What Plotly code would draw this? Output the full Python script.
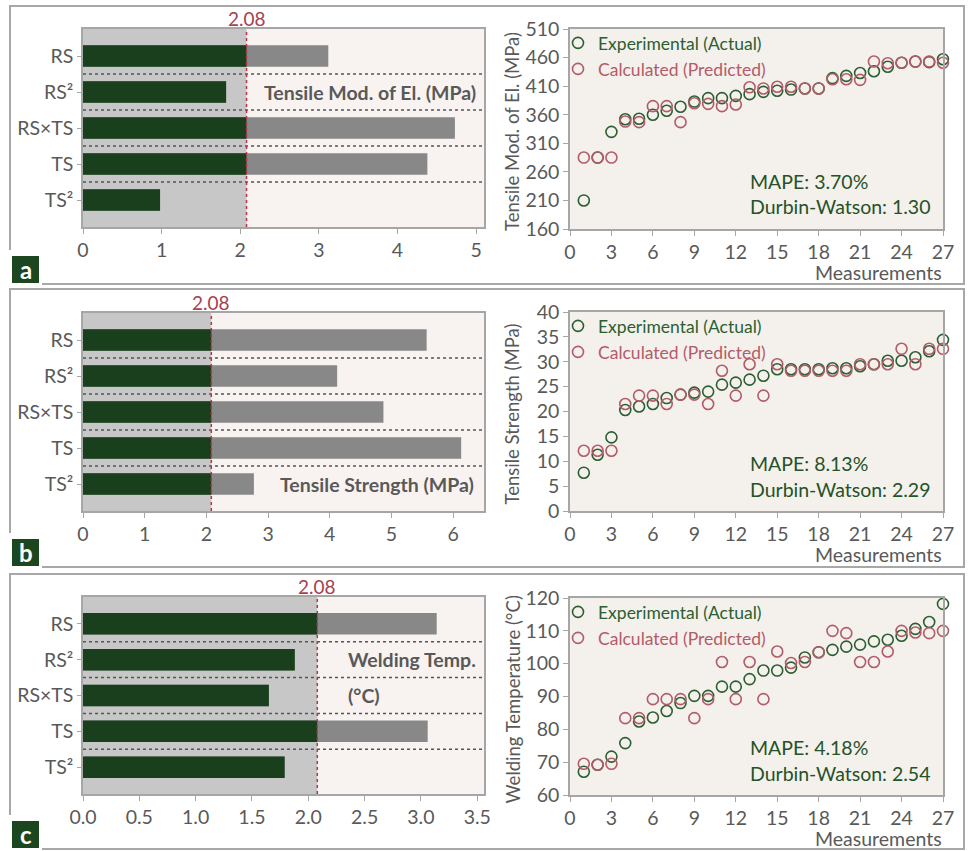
import plotly.graph_objects as go

W, H = 970, 851

# ---------------- data ----------------
terms = ["RS", "RS²", "RS×TS", "TS", "TS²"]
threshold = 2.08
effects_mod = [3.12, 1.82, 4.73, 4.38, 0.98]
effects_str = [5.57, 4.12, 4.87, 6.13, 2.77]
effects_temp = [3.14, 1.88, 1.65, 3.06, 1.79]

measurements = list(range(1, 28))
mod_exp = [210, 285, 330, 352, 353, 360, 367, 374, 383, 389, 389, 393, 396, 400,
           402, 404, 406, 406, 424, 428, 433, 436, 444, 451, 453, 452, 457]
mod_calc = [285, 285, 285, 348, 347, 375, 375, 347, 380, 379, 375, 378, 408, 406,
            409, 409, 406, 406, 422, 422, 421, 453, 450, 451, 453, 453, 451]
str_exp = [7.7, 11.3, 14.8, 20.3, 21.0, 21.5, 22.7, 23.4, 23.8, 24.0, 25.4, 25.8, 26.4, 27.2,
           28.5, 28.5, 28.5, 28.5, 28.7, 28.7, 29.1, 29.5, 30.2, 30.2, 30.9, 32.1, 34.4]
str_calc = [12.1, 12.1, 12.1, 21.5, 23.2, 23.2, 21.5, 23.4, 23.4, 21.5, 28.2, 23.2, 29.5, 23.2,
            29.5, 28.2, 28.2, 28.2, 28.2, 28.2, 29.5, 29.5, 29.5, 32.6, 29.5, 32.6, 32.6]
temp_exp = [67.1, 69.2, 71.7, 75.8, 82.4, 83.6, 85.6, 88.0, 90.2, 90.2, 93.0, 93.0, 95.3, 97.9,
            97.9, 98.8, 101.9, 103.5, 104.2, 105.2, 105.8, 106.8, 107.3, 108.5, 110.6, 112.7, 118.2]
temp_calc = [69.5, 69.2, 69.5, 83.4, 83.4, 89.2, 89.2, 89.2, 83.4, 89.2, 100.5, 89.2, 100.5, 89.2,
             103.7, 100.2, 100.5, 103.5, 110.0, 109.3, 100.5, 100.5, 103.7, 110.0, 109.5, 109.3, 110.0]

panel_letters = ["a", "b", "c"]
bar_titles = ["Tensile Mod. of El. (MPa)", "Tensile Strength (MPa)", "Welding Temp.<br>(°C)"]
y_titles = ["Tensile Mod. of El. (MPa)", "Tensile Strength (MPa)", "Welding Temperature (°C)"]
mape = ["3.70%", "8.13%", "4.18%"]
dw = ["1.30", "2.29", "2.54"]
legend_names = ["Experimental (Actual)", "Calculated (Predicted)"]

# ---------------- style ----------------
FONT = "Lato, 'Open Sans', sans-serif"
DARK_GREEN = "#193f1c"
BAR_GRAY = "#888888"
REGION_GRAY = "#c7c7c7"
BEIGE = "#f8f3f0"
SC_BG = "#f4f0ec"
GREEN_M = "#2b5f31"
RED_M = "#b35b69"
TXT = "#595959"
AX = "#a6a6a6"
LABEL_RED = "#a8404f"
TEXT_GREEN = "#245229"
TICK_SIZE = 19.5


def xd(a, b):
    return [a / W, b / W]


def yd(top, bottom):
    return [1 - bottom / H, 1 - top / H]


def px(x):
    return x / W


def py(y):
    return 1 - y / H


# geometry (pixels)
bar_x = (83, 484)
sc_x = (570, 943)
bar_y = [(29, 227), (313, 511), (597, 794)]
sc_y = [(29, 229), (312, 511), (598, 795)]
bar_range = [[0, 5.1], [0, 6.5], [0, 3.56]]
bar_dtick = [1, 1, 0.5]
bar_fmt = ["", "", ".1f"]
sc_range = [[160, 510], [0, 40], [60, 120]]
sc_dtick = [50, 5, 10]
frames = [(6, 284), (289, 567), (574, 849)]

effects = [effects_mod, effects_str, effects_temp]
exps = [mod_exp, str_exp, temp_exp]
calcs = [mod_calc, str_calc, temp_calc]

fig = go.Figure()
layout = dict(
    width=W, height=H, margin=dict(l=0, r=0, t=0, b=0, autoexpand=False),
    paper_bgcolor="white", plot_bgcolor=SC_BG,
    font=dict(family=FONT, size=18, color=TXT),
    barmode="overlay", showlegend=True,
)
shapes = []
annotations = []

for p in range(3):
    bx = "x" if p == 0 else f"x{2 * p + 1}"
    byy = "y" if p == 0 else f"y{2 * p + 1}"
    sx = f"x{2 * p + 2}"
    syy = f"y{2 * p + 2}"
    bxk = "xaxis" if p == 0 else f"xaxis{2 * p + 1}"
    byk = "yaxis" if p == 0 else f"yaxis{2 * p + 1}"
    sxk = f"xaxis{2 * p + 2}"
    syk = f"yaxis{2 * p + 2}"

    # ---- bar chart ----
    vals = effects[p]
    fig.add_trace(go.Bar(y=terms, x=vals, orientation="h", width=0.6,
                         marker=dict(color=BAR_GRAY, line=dict(width=0)),
                         xaxis=bx, yaxis=byy, showlegend=False, hoverinfo="skip"))
    fig.add_trace(go.Bar(y=terms, x=[min(v, threshold) for v in vals], orientation="h", width=0.6,
                         marker=dict(color=DARK_GREEN, line=dict(width=0)),
                         xaxis=bx, yaxis=byy, showlegend=False, hoverinfo="skip"))
    layout[bxk] = dict(domain=xd(*bar_x), anchor=byy, range=bar_range[p], dtick=bar_dtick[p],
                       tick0=0, tickformat=bar_fmt[p], showgrid=False, zeroline=False,
                       showline=True, linecolor=AX, linewidth=1.5, mirror=True,
                       ticks="outside", ticklen=5, tickcolor=AX, automargin=False,
                       tickfont=dict(size=TICK_SIZE, color=TXT))
    layout[byk] = dict(domain=yd(*bar_y[p]), anchor=bx, type="category",
                       categoryorder="array", categoryarray=terms,
                       range=[4.75, -0.75], showgrid=False, zeroline=False,
                       showline=True, linecolor=AX, linewidth=1.5, mirror=True,
                       ticks="outside", ticklen=4, tickcolor=AX, automargin=False,
                       tickfont=dict(size=TICK_SIZE, color=TXT))
    # backgrounds
    shapes.append(dict(type="rect", xref=f"{bx} domain", yref=f"{byy} domain",
                       x0=0, x1=1, y0=0, y1=1, fillcolor=BEIGE, line=dict(width=0), layer="below"))
    shapes.append(dict(type="rect", xref=bx, yref=f"{byy} domain",
                       x0=0, x1=threshold, y0=0, y1=1, fillcolor=REGION_GRAY,
                       line=dict(width=0), layer="below"))
    for k in range(len(terms) - 1):
        shapes.append(dict(type="line", xref=f"{bx} domain", yref=byy,
                           x0=0, x1=1, y0=k + 0.5, y1=k + 0.5,
                           line=dict(color="#555555", width=1.5, dash="dot"), layer="below"))
    shapes.append(dict(type="line", xref=bx, yref=f"{byy} domain",
                       x0=threshold, x1=threshold, y0=0, y1=1,
                       line=dict(color="#b3374a", width=1.5, dash="dot"), layer="above"))
    annotations.append(dict(xref=bx, yref=f"{byy} domain", x=threshold, y=1,
                            xanchor="center", yanchor="bottom", yshift=-3,
                            text=f"{threshold:.2f}", showarrow=False,
                            font=dict(size=19, color=LABEL_RED)))
    # bar panel caption
    cap_font = dict(size=19.5, color=TXT)
    if p == 0:
        annotations.append(dict(xref="paper", yref=byy, x=px(478), y=terms[1],
                                xanchor="right", yanchor="middle", showarrow=False,
                                text=f"<b>{bar_titles[p]}</b>", font=cap_font))
    elif p == 1:
        annotations.append(dict(xref="paper", yref=byy, x=px(476), y=terms[4],
                                xanchor="right", yanchor="middle", showarrow=False,
                                text=f"<b>{bar_titles[p]}</b>", font=cap_font))
    else:
        lines = bar_titles[p].split("<br>")
        annotations.append(dict(xref="paper", yref=byy, x=px(346), y=terms[1],
                                xanchor="left", yanchor="middle", showarrow=False,
                                text=f"<b>{lines[0]}</b>", font=cap_font))
        annotations.append(dict(xref="paper", yref=byy, x=px(346), y=terms[2],
                                xanchor="left", yanchor="middle", showarrow=False,
                                text=f"<b>{lines[1]}</b>", font=cap_font))

    # ---- scatter ----
    lg1 = "legend" if p == 0 else f"legend{2 * p + 1}"
    lg2 = f"legend{2 * p + 2}"
    fig.add_trace(go.Scatter(x=measurements, y=exps[p], mode="markers", name=legend_names[0],
                             marker=dict(symbol="circle-open", size=11, color=GREEN_M,
                                         line=dict(width=1.6, color=GREEN_M)),
                             xaxis=sx, yaxis=syy, legend=lg1, cliponaxis=False, hoverinfo="skip"))
    fig.add_trace(go.Scatter(x=measurements, y=calcs[p], mode="markers", name=legend_names[1],
                             marker=dict(symbol="circle-open", size=11, color=RED_M,
                                         line=dict(width=1.6, color=RED_M)),
                             xaxis=sx, yaxis=syy, legend=lg2, cliponaxis=False, hoverinfo="skip"))
    layout[sxk] = dict(domain=xd(*sc_x), anchor=syy, range=[0, 27], dtick=3, tick0=0,
                       showgrid=False, zeroline=False, showline=True, linecolor=AX,
                       linewidth=1.5, mirror=True, ticks="outside", ticklen=5, tickcolor=AX,
                       automargin=False, tickfont=dict(size=TICK_SIZE, color=TXT))
    layout[syk] = dict(domain=yd(*sc_y[p]), anchor=sx, range=sc_range[p], dtick=sc_dtick[p],
                       tick0=sc_range[p][0], showgrid=False, zeroline=False, showline=True,
                       linecolor=AX, linewidth=1.5, mirror=True, ticks="outside", ticklen=5,
                       tickcolor=AX, automargin=False, tickfont=dict(size=TICK_SIZE, color=TXT))
    top, bot = sc_y[p]
    layout[lg1] = dict(x=px(558), y=py(top + 14), xanchor="left", yanchor="middle",
                       bgcolor="rgba(0,0,0,0)", font=dict(size=17.5, color=GREEN_M),
                       itemwidth=30)
    layout[lg2] = dict(x=px(558), y=py(top + 40), xanchor="left", yanchor="middle",
                       bgcolor="rgba(0,0,0,0)", font=dict(size=17.5, color=RED_M),
                       itemwidth=30)
    # stats text
    annotations.append(dict(xref="paper", yref="paper", x=px(748), y=py(bot - 48),
                            xanchor="left", yanchor="middle", showarrow=False,
                            text=f"MAPE: {mape[p]}", font=dict(size=19.5, color=TEXT_GREEN)))
    annotations.append(dict(xref="paper", yref="paper", x=px(748), y=py(bot - 22),
                            xanchor="left", yanchor="middle", showarrow=False,
                            text=f"Durbin-Watson: {dw[p]}", font=dict(size=19.5, color=TEXT_GREEN)))
    # axis titles
    annotations.append(dict(xref="paper", yref="paper", x=px(512), y=py((top + bot) / 2 + 3),
                            xanchor="center", yanchor="middle", textangle=-90, showarrow=False,
                            text=y_titles[p], font=dict(size=18.5, color=TXT)))
    annotations.append(dict(xref="paper", yref="paper", x=px(944), y=py(bot + 43),
                            xanchor="right", yanchor="middle", showarrow=False,
                            text="Measurements", font=dict(size=19.5, color=TXT)))

    # ---- panel frame and label ----
    ft, fb = frames[p]
    path = (f"M {px(10)},{py(fb - 34)} L {px(10)},{py(ft)} L {px(964)},{py(ft)} "
            f"L {px(964)},{py(fb)} L {px(42)},{py(fb)}")
    shapes.append(dict(type="path", xref="paper", yref="paper", path=path,
                       line=dict(color="#a8a8a8", width=2)))
    shapes.append(dict(type="rect", xref="paper", yref="paper",
                       x0=px(12), x1=px(39), y0=py(fb - 1), y1=py(fb - 28),
                       fillcolor="#1c4620", line=dict(width=0)))
    annotations.append(dict(xref="paper", yref="paper", x=px(25.5), y=py(fb - 15),
                            xanchor="center", yanchor="middle", showarrow=False,
                            text=f"<b>{panel_letters[p]}</b>", font=dict(size=24, color="white")))

layout["shapes"] = shapes
layout["annotations"] = annotations
fig.update_layout(**layout)
fig.write_html("out.html", config={"displayModeBar": False},
               post_script="document.body.style.margin='0px';document.body.style.overflow='hidden';")
